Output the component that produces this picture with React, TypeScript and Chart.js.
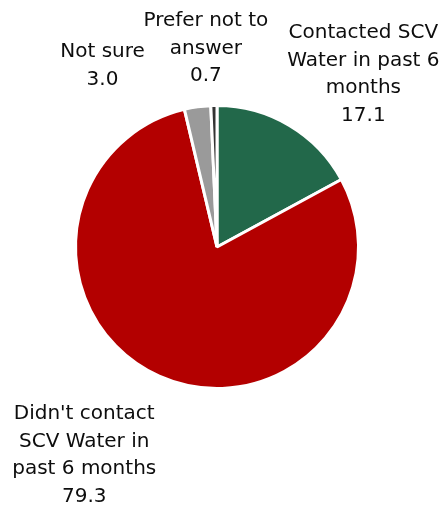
import React, { useEffect, useRef } from "react";
import { Chart, registerables } from "chart.js";

Chart.register(...registerables);

const categories: string[][] = [
  ["Contacted SCV", "Water in past 6", "months"],
  ["Didn't contact", "SCV Water in", "past 6 months"],
  ["Not sure"],
  ["Prefer not to", "answer"],
];
const values: number[] = [17.1, 79.3, 3.0, 0.7];
const colors: string[] = ["#22684A", "#B30000", "#9A9A9A", "#333333"];

// label block centre offsets relative to the arc edge at each slice's mid angle
const labelOffsets: [number, number][] = [
  [74, -51],
  [-75, 79],
  [-95, -41],
  [-8, -57],
];

const FONT = '20px "DejaVu Sans", Verdana, sans-serif';
const LINE_H = 27.5;

const labelPlugin = {
  id: "outerLabels",
  afterDatasetsDraw(chart: any) {
    const ctx = chart.ctx as CanvasRenderingContext2D;
    const meta = chart.getDatasetMeta(0);
    ctx.save();
    ctx.font = FONT;
    ctx.fillStyle = "#0d0d0d";
    ctx.textAlign = "center";
    ctx.textBaseline = "middle";
    meta.data.forEach((arc: any, i: number) => {
      const { x, y, startAngle, endAngle, outerRadius } = arc.getProps(
        ["x", "y", "startAngle", "endAngle", "outerRadius"],
        true
      );
      const mid = (startAngle + endAngle) / 2;
      const ex = x + Math.cos(mid) * outerRadius;
      const ey = y + Math.sin(mid) * outerRadius;
      const lines = [...categories[i], values[i].toFixed(1)];
      const cx = ex + labelOffsets[i][0];
      const cy = ey + labelOffsets[i][1];
      const top = cy - ((lines.length - 1) * LINE_H) / 2;
      lines.forEach((ln, k) => ctx.fillText(ln, cx, top + k * LINE_H));
    });
    ctx.restore();
  },
};

export default function App() {
  const ref = useRef<HTMLCanvasElement | null>(null);
  useEffect(() => {
    document.body.style.margin = "0";
    const canvas = ref.current!;
    const chart = new Chart(canvas, {
      type: "pie",
      data: {
        labels: categories.map((c) => c.join(" ")),
        datasets: [
          {
            data: values,
            backgroundColor: colors,
            borderColor: "#ffffff",
            borderWidth: 3,
            hoverOffset: 0,
            offset: 0,
          },
        ],
      },
      options: {
        animation: false,
        responsive: false,
        maintainAspectRatio: false,
        layout: { padding: { left: 74, right: 84, top: 104, bottom: 120 } },
        plugins: {
          legend: { display: false },
          tooltip: { enabled: false },
        },
      },
      plugins: [labelPlugin],
    });
    return () => chart.destroy();
  }, []);
  return (
    <div style={{ width: 444, height: 510 }}>
      <canvas ref={ref} width={444} height={510} style={{ display: "block" }} />
    </div>
  );
}
